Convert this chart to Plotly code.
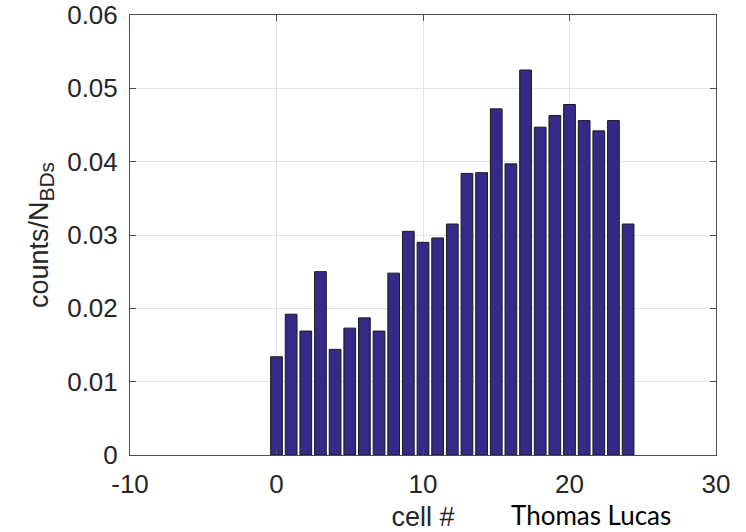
import plotly.graph_objects as go

# Breakdown distribution per cell, normalised by number of BDs
cells = list(range(25))
counts_norm = [0.0134, 0.0192, 0.0169, 0.0250, 0.0144, 0.0173, 0.0187, 0.0169,
               0.0248, 0.0305, 0.0290, 0.0296, 0.0315, 0.0384, 0.0385, 0.0472,
               0.0397, 0.0525, 0.0447, 0.0463, 0.0478, 0.0456, 0.0442, 0.0456,
               0.0315]

x_ticks = [-10, 0, 10, 20, 30]
x_tick_text = ["-10", "0", "10", "20", "30"]
y_ticks = [0, 0.01, 0.02, 0.03, 0.04, 0.05, 0.06]
y_tick_text = ["0", "0.01", "0.02", "0.03", "0.04", "0.05", "0.06"]

FONT = "Liberation Sans, Arial"
TXT = "#262626"

fig = go.Figure()
fig.add_trace(go.Bar(
    x=cells, y=counts_norm, width=0.8,
    marker=dict(color="rgb(53,42,135)", line=dict(color="#1a1a1a", width=1)),
))

axis_common = dict(
    showline=True, linecolor="#4d4d4d", linewidth=1, mirror="ticks",
    ticks="inside", ticklen=6, tickcolor="#4d4d4d",
    showgrid=True, gridcolor="#e3e3e3", gridwidth=1, zeroline=False,
    tickfont=dict(family=FONT, size=26, color=TXT),
    ticklabeloverflow="allow", automargin=False,
)

fig.update_layout(
    width=746, height=532,
    margin=dict(l=130, r=30, t=15, b=77),
    paper_bgcolor="white", plot_bgcolor="white",
    showlegend=False,
    xaxis=dict(range=[-10, 30], tickvals=x_ticks, ticktext=x_tick_text,
               ticklabelstandoff=6, **axis_common,
               title=dict(text="cell #", standoff=9,
                          font=dict(family=FONT, size=27, color=TXT))),
    yaxis=dict(range=[0, 0.06], tickvals=y_ticks, ticktext=y_tick_text,
               ticklabelstandoff=6, **axis_common,
               title=dict(text="counts/N<sub><span style='font-size:21px'>BDs</span></sub>",
                          standoff=10,
                          font=dict(family=FONT, size=27, color=TXT))),
    annotations=[dict(
        text="Thomas Lucas", xref="paper", yref="paper", x=0.787, y=-0.136,
        xanchor="center", yanchor="middle", showarrow=False,
        font=dict(family="Lato, Open Sans", size=26, color="black"),
    )],
)

fig.write_html("out.html")
